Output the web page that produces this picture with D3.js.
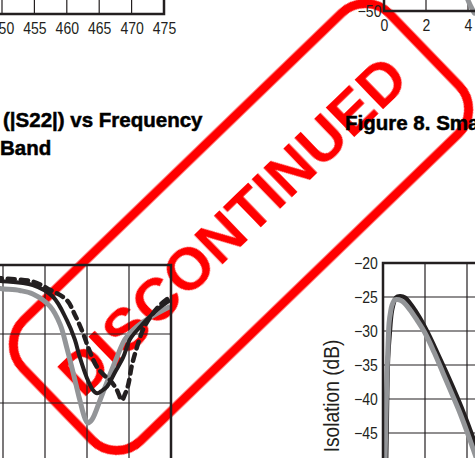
<!DOCTYPE html>
<html>
<head>
<meta charset="UTF-8">
<script src="https://d3js.org/d3.v7.min.js"></script>
<style>
  body { margin: 0; background: #fff; }
  svg { display: block; }
</style>
</head>
<body>
<div id="chart"></div>
<script>
// tick values
const topLeftFreqTicks = [450, 455, 460, 465, 470, 475];
const topRightFreqTicks = [0, 2, 4];
const topRightDbTicks = [-50];
const s22FreqGrid = [1, 2, 3, 4];
const s22DbGrid = [-5, -10, -15];
const isoFreqGrid = [2, 4];
const isoDbTicks = [-20, -25, -30, -35, -40, -45];

// output return loss curves, [frequency, dB]
const s22Gray = [[0.81,-1.6],[0.93,-1.7],[1.40,-1.85],[1.71,-2.1],[2.12,-3.0],[2.36,-4.3],[2.52,-6.0],
  [2.71,-8.3],[2.83,-9.8],[2.95,-11.1],[3.02,-11.45],[3.12,-11.2],[3.31,-9.8],[3.50,-8.3],[3.71,-6.7],
  [3.90,-5.4],[4.10,-4.7],[4.50,-3.8],[4.98,-3.0]];
const s22Black = [[0.81,-1.1],[0.93,-1.15],[1.71,-1.45],[2.19,-2.3],[2.52,-4.0],[2.71,-5.4],[2.83,-6.7],
  [3.00,-8.2],[3.14,-9.05],[3.24,-9.3],[3.36,-9.1],[3.48,-8.8],[3.67,-7.75],[3.86,-6.7],[4.02,-5.4],
  [4.26,-4.5],[4.67,-3.25],[4.98,-2.55]];
const s22Dashed = [[0.81,-0.85],[0.93,-0.95],[1.71,-1.2],[2.12,-1.8],[2.52,-2.55],[2.71,-3.6],[2.90,-4.9],
  [3.07,-6.3],[3.24,-7.4],[3.43,-8.05],[3.55,-8.35],[3.71,-9.05],[3.83,-9.8],[3.90,-9.4],[3.98,-8.7],
  [4.07,-7.25],[4.19,-5.95],[4.33,-4.7],[4.50,-3.8],[4.74,-2.9],[4.98,-2.3]];

// isolation curves, [frequency, dB]
const isoBlack = [[0.14,-50.5],[0.17,-45],[0.20,-39],[0.24,-34],[0.33,-29.9],[0.43,-26.9],[0.62,-25.1],
  [0.81,-24.9],[1.05,-25.1],[1.38,-26.3],[1.76,-28.1],[2.14,-30.3],[2.57,-33.1],[3.00,-36.0],
  [3.43,-39.0],[3.81,-41.8],[4.24,-45.3],[4.62,-48.7],[4.8,-50.5]];
const isoGray = [[0.07,-50.5],[0.10,-48.5],[0.14,-43.1],[0.19,-36.2],[0.24,-32.1],[0.29,-28.8],
  [0.36,-27.2],[0.43,-26.2],[0.57,-25.4],[0.76,-25.4],[0.95,-25.7],[1.29,-26.9],[1.62,-28.4],
  [2.00,-30.3],[2.43,-33.1],[2.86,-36.2],[3.29,-39.3],[3.67,-42.1],[4.14,-46.0],[4.52,-49.3],[4.7,-50.5]];
const topRightGray = [[3.7,-44.5],[3.95,-48.0],[4.3,-50.3]];

const W = 475, H = 458;
const ink = "#231f20", grayInk = "#939598", stampRed = "#ff0000";
const font = "'Liberation Sans', Arial, sans-serif";

let svg = d3.select("#chart").append("svg")
  .attr("width", W).attr("height", H)
  .style("background", "#fff");

// blur for the rubber stamp look
svg.append("defs").append("filter").attr("id", "soft")
  .append("feGaussianBlur").attr("stdDeviation", 0.7);

// stamp sits behind everything
let stamp = svg.append("g")
  .attr("transform", "translate(241,227) rotate(-44)")
  .attr("filter", "url(#soft)");
stamp.append("rect")
  .attr("x", -255).attr("y", -84).attr("width", 510).attr("height", 168)
  .attr("rx", 34)
  .attr("fill", "none").attr("stroke", stampRed).attr("stroke-width", 9);
stamp.append("text")
  .attr("x", -5).attr("y", 14)
  .attr("text-anchor", "middle")
  .style("font-family", font).style("font-weight", "bold").style("font-size", "60px")
  .attr("fill", stampRed)
  .text("DISCONTINUED");

let line = (x, y) => d3.line()
  .x(d => x(d[0])).y(d => y(d[1]))
  .curve(d3.curveCatmullRom.alpha(0.5));

function vGrid(g, x, vals, y0, y1) {
  g.selectAll(null).data(vals).enter().append("line")
    .attr("x1", d => x(d)).attr("x2", d => x(d))
    .attr("y1", y0).attr("y2", y1)
    .attr("stroke", ink).attr("stroke-width", 1.2);
}
function hGrid(g, y, vals, x0, x1) {
  g.selectAll(null).data(vals).enter().append("line")
    .attr("y1", d => y(d)).attr("y2", d => y(d))
    .attr("x1", x0).attr("x2", x1)
    .attr("stroke", ink).attr("stroke-width", 1.2);
}
// tick labels: narrow helvetica look, squeezed arial
function styleAxis(g) {
  g.select(".domain").remove();
  g.selectAll("text")
    .style("font-family", font).style("font-size", "16.5px").attr("fill", ink)
    .attr("transform", "scale(0.85,1)");
}

// ---- top left chart (only its bottom edge is in view)
{
  let x = d3.scaleLinear().domain([450, 475]).range([2, 164]);
  let g = svg.append("g");
  vGrid(g, x, topLeftFreqTicks.slice(0, -1), -5, 14);
  g.append("path").attr("d", `M${x(475)},-5V14H-5`)
    .attr("fill", "none").attr("stroke", ink).attr("stroke-width", 2.5);
  g.append("g").attr("transform", "translate(0,14)")
    .call(d3.axisBottom(x).tickValues(topLeftFreqTicks).tickSize(0).tickPadding(8))
    .call(styleAxis);
}

// ---- top right chart (only its bottom-left corner)
{
  let x = d3.scaleLinear().domain([0, 10]).range([384, 594]);
  let y = d3.scaleLinear().domain([-50, -20]).range([11, -193]);
  let g = svg.append("g");
  vGrid(g, x, [2, 4], -5, 11);
  g.append("path").datum(topRightGray).attr("d", line(x, y))
    .attr("fill", "none").attr("stroke", grayInk).attr("stroke-width", 5).attr("stroke-linecap", "round");
  g.append("path").attr("d", `M${x(0)},-5V11H480`)
    .attr("fill", "none").attr("stroke", ink).attr("stroke-width", 2.5);
  g.append("g").attr("transform", "translate(0,11)")
    .call(d3.axisBottom(x).tickValues(topRightFreqTicks).tickSize(0).tickPadding(8))
    .call(styleAxis);
  g.append("g").attr("transform", `translate(${x(0)},0)`)
    .call(d3.axisLeft(y).tickValues(topRightDbTicks).tickFormat(d => "\u2212" + Math.abs(d)).tickSize(0).tickPadding(3))
    .call(styleAxis);
}

// ---- bottom left chart: |S22| vs frequency
{
  let x = d3.scaleLinear().domain([0, 5]).range([-39, 171]);
  let y = d3.scaleLinear().domain([-20, 0]).range([541, 265]);
  let g = svg.append("g");
  vGrid(g, x, s22FreqGrid, y(0), H + 5);
  hGrid(g, y, s22DbGrid, -5, x(5));
  g.append("path").datum(s22Gray).attr("d", line(x, y))
    .attr("fill", "none").attr("stroke", grayInk).attr("stroke-width", 5).attr("stroke-linejoin", "round");
  g.append("path").datum(s22Black).attr("d", line(x, y))
    .attr("fill", "none").attr("stroke", ink).attr("stroke-width", 4).attr("stroke-linejoin", "round");
  g.append("path").datum(s22Dashed).attr("d", line(x, y))
    .attr("fill", "none").attr("stroke", ink).attr("stroke-width", 4.5)
    .attr("stroke-dasharray", "7,6").attr("stroke-linecap", "round");
  g.append("path").attr("d", `M-5,${y(0)}H${x(5)}V${H + 5}`)
    .attr("fill", "none").attr("stroke", ink).attr("stroke-width", 2.5);
}

// ---- bottom right chart: isolation vs frequency
{
  let x = d3.scaleLinear().domain([0, 10]).range([383, 593]);
  let y = d3.scaleLinear().domain([-50, -20]).range([467, 263]);
  let g = svg.append("g");
  vGrid(g, x, isoFreqGrid, y(-20), H + 5);
  hGrid(g, y, isoDbTicks.slice(1), x(0), W + 5);
  g.append("path").datum(isoBlack).attr("d", line(x, y))
    .attr("fill", "none").attr("stroke", ink).attr("stroke-width", 4.5).attr("stroke-linejoin", "round");
  g.append("path").datum(isoGray).attr("d", line(x, y))
    .attr("fill", "none").attr("stroke", grayInk).attr("stroke-width", 5).attr("stroke-linejoin", "round");
  g.append("path").attr("d", `M${x(0)},${H + 5}V${y(-20)}H${W + 5}`)
    .attr("fill", "none").attr("stroke", ink).attr("stroke-width", 2.5);
  g.append("g").attr("transform", `translate(${x(0)},0)`)
    .call(d3.axisLeft(y).tickValues(isoDbTicks).tickFormat(d => "\u2212" + Math.abs(d)).tickSize(0).tickPadding(6))
    .call(styleAxis);
  g.append("text")
    .attr("transform", "translate(339,396) rotate(-90) scale(0.85,1)")
    .attr("text-anchor", "middle")
    .style("font-family", font).style("font-size", "22.5px").attr("fill", ink)
    .text("Isolation (dB)");
}

// ---- figure titles
let titles = svg.append("g")
  .style("font-family", font).style("font-weight", "bold").style("font-size", "20.5px")
  .attr("fill", "#000").attr("stroke", "#000").attr("stroke-width", 0.5);
titles.append("text").attr("x", 3).attr("y", 127).text("(|S22|) vs Frequency");
titles.append("text").attr("x", 0).attr("y", 155).text("Band");
titles.append("text").attr("x", 345).attr("y", 130).text("Figure 8. Small Signal Isolation");
</script>
</body>
</html>
